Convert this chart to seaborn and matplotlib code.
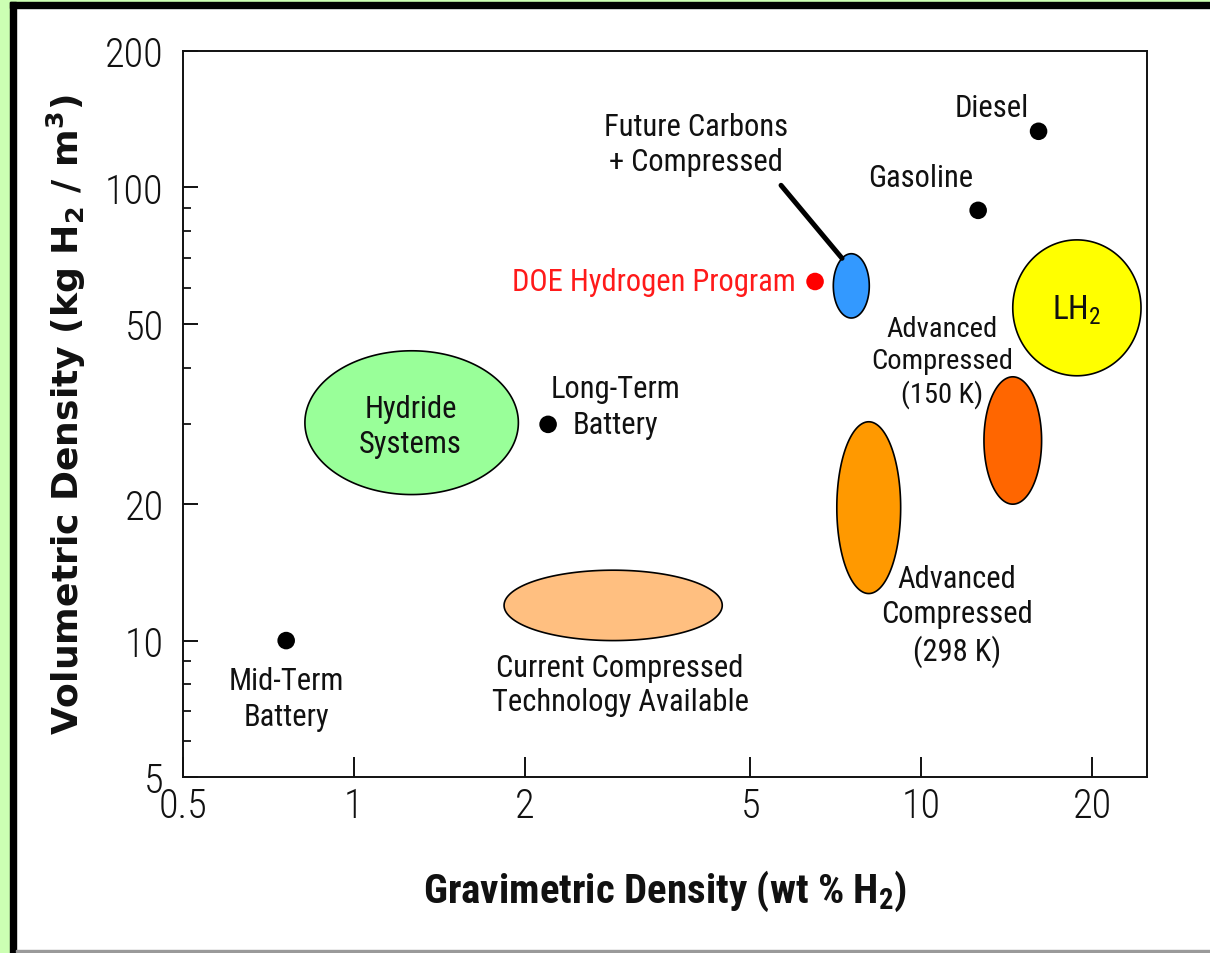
import os
import numpy as np
import pandas as pd
import matplotlib
matplotlib.use("Agg")
import matplotlib.pyplot as plt
import seaborn as sns
from matplotlib import font_manager as fm
from matplotlib.patches import Rectangle
from matplotlib.ticker import FixedLocator, FixedFormatter, NullFormatter, NullLocator

# ---- single-value storage options (wt % H2, kg H2 / m3) ----
point_names = ["Diesel", "Gasoline", "DOE Hydrogen Program",
               "Long-Term\nBattery", "Mid-Term\nBattery"]
point_wt = [16.1, 12.6, 6.5, 2.2, 0.76]
point_vol = [133, 89, 62, 30, 10]
point_colors = ["#000000", "#000000", "#ff0000", "#000000", "#000000"]

# ---- storage technologies spanning a range ----
region_names = ["Hydride\nSystems", "Current Compressed\nTechnology Available",
                "Future Carbons\n+ Compressed", "LH$_2$",
                "Advanced\nCompressed\n(150 K)", "Advanced\nCompressed\n(298 K)"]
region_wt_lo = [0.82, 1.84, 7.0, 14.5, 12.9, 7.1]
region_wt_hi = [1.95, 4.46, 8.1, 24.4, 16.3, 9.2]
region_vol_lo = [21.0, 10.0, 51.5, 38.4, 20.0, 12.7]
region_vol_hi = [43.6, 14.3, 71.4, 76.6, 38.2, 30.4]
region_colors = ["#99ff99", "#ffbf80", "#3399ff", "#ffff00", "#ff6600", "#ff9900"]

x_ticks = [0.5, 1, 2, 5, 10, 20]
x_tick_labels = ["0.5", "1", "2", "5", "10", "20"]
y_ticks = [5, 10, 20, 50, 100, 200]
y_tick_labels = ["5", "10", "20", "50", "100", "200"]
y_minor_ticks = [6, 7, 8, 9, 30, 40, 60, 70, 80, 90]

# ---- label layout (offsets in pixels) ----
point_label_offsets = [(-47, 24), (-57, 33), (-19, 0), (67, 18), (0, -58)]
point_label_ha = ["center", "center", "right", "center", "center"]
region_label_offsets = [(-1, -3), (7, -79), (-155, 142), (0, -1), (-71, 79), (88, -108)]
region_label_sizes = [22, 22, 22, 24, 20.5, 22]
leader_region = 2
leader_angle = np.deg2rad(121)
leader_offset = (-61, 73)

sns.set_theme(style="white")
plt.rcParams["font.family"] = ["Liberation Sans", "DejaVu Sans"]
plt.rcParams["mathtext.default"] = "regular"


def find_font(patterns):
    """Return the path of the first installed font file whose name matches."""
    files = [f.fname for f in fm.fontManager.ttflist]
    files += fm.findSystemFonts()
    for pat in patterns:
        for path in files:
            base = os.path.splitext(os.path.basename(path))[0].lower().replace("-", "").replace("_", "")
            if base == pat.lower():
                return path
    return None


narrow_regular = find_font(["LiberationSansNarrowRegular", "ArialNarrow",
                            "RobotoCondensedRegular", "NotoSansCondensed",
                            "DejaVuSansCondensed"])
narrow_light = find_font(["RobotoCondensedLight", "LiberationSansNarrowRegular",
                          "RobotoCondensedRegular", "NotoSansCondensedLight",
                          "DejaVuSansCondensed"])
narrow_bold = find_font(["LiberationSansNarrowBold", "ArialNarrowBold",
                         "RobotoCondensedBold", "NotoSansCondensedBold",
                         "DejaVuSansCondensedBold"])


def narrow(size, path):
    if path:
        return fm.FontProperties(fname=path, size=size)
    return fm.FontProperties(family=["Liberation Sans", "DejaVu Sans"], size=size)


W, H = 1210, 954
fig = plt.figure(figsize=(W / 100, H / 100), dpi=100)
fig.patch.set_facecolor("white")

# page frame
frame_green = "#ccffb3"
fig.patches.extend([
    Rectangle((0, 0), 10 / W, 1, transform=fig.transFigure, color=frame_green, zorder=0),
    Rectangle((0, 1 - 3 / H), 1, 3 / H, transform=fig.transFigure, color=frame_green, zorder=0),
    Rectangle((10 / W, 0), 6 / W, 1 - 3 / H, transform=fig.transFigure, color="black", zorder=1),
    Rectangle((10 / W, 1 - 9 / H), 1 - 10 / W, 6 / H, transform=fig.transFigure, color="black", zorder=1),
    Rectangle((16 / W, 1 / H), 1 - 16 / W, 2 / H, transform=fig.transFigure, color="#9a9a9a", zorder=1),
])

ax = fig.add_axes([183 / W, 1 - 778 / H, 964 / W, 726 / H])

# ellipses drawn in log-log space
t = np.linspace(0, 2 * np.pi, 240)
region_centers = []
for name, xl, xh, yl, yh, col in zip(region_names, region_wt_lo, region_wt_hi,
                                     region_vol_lo, region_vol_hi, region_colors):
    cx, rx = (np.log10(xl) + np.log10(xh)) / 2, (np.log10(xh) - np.log10(xl)) / 2
    cy, ry = (np.log10(yl) + np.log10(yh)) / 2, (np.log10(yh) - np.log10(yl)) / 2
    region_centers.append((cx, rx, cy, ry))
    ax.fill(10 ** (cx + rx * np.cos(t)), 10 ** (cy + ry * np.sin(t)),
            facecolor=col, edgecolor="black", linewidth=1.2, zorder=2)

df = pd.DataFrame({"name": point_names, "wt": point_wt, "vol": point_vol})
sns.scatterplot(data=df, x="wt", y="vol", hue="name",
                palette=dict(zip(point_names, point_colors)),
                s=160, linewidth=0, legend=False, ax=ax, zorder=3)

ax.set_xscale("log")
ax.set_yscale("log")
ax.set_xlim(0.5, 25)
ax.set_ylim(5, 200)

label_size = 22
for name, x, y, col, off, ha in zip(point_names, point_wt, point_vol, point_colors,
                                    point_label_offsets, point_label_ha):
    ax.annotate(name, xy=(x, y), xytext=off, textcoords="offset pixels",
                ha=ha, va="center", fontproperties=narrow(label_size, narrow_regular),
                color="#ff1a1a" if col != "#000000" else "#111111",
                linespacing=1.3)

for name, (cx, rx, cy, ry), off, sz in zip(region_names, region_centers,
                                           region_label_offsets, region_label_sizes):
    ax.annotate(name, xy=(10 ** cx, 10 ** cy), xytext=off, textcoords="offset pixels",
                ha="center", va="center", fontproperties=narrow(sz, narrow_regular),
                color="#111111", linespacing=1.25)

# leader line from the carbon region to its label
cx, rx, cy, ry = region_centers[leader_region]
lead_pt = (10 ** (cx + rx * np.cos(leader_angle)), 10 ** (cy + ry * np.sin(leader_angle)))
ax.annotate("", xy=lead_pt, xytext=leader_offset, textcoords="offset pixels",
            arrowprops=dict(arrowstyle="-", lw=3.6, color="black", shrinkA=0, shrinkB=0))

# axes styling
ax.xaxis.set_major_locator(FixedLocator(x_ticks))
ax.xaxis.set_major_formatter(FixedFormatter(x_tick_labels))
ax.xaxis.set_minor_locator(NullLocator())
ax.yaxis.set_major_locator(FixedLocator(y_ticks))
ax.yaxis.set_major_formatter(FixedFormatter(y_tick_labels))
ax.yaxis.set_minor_locator(FixedLocator(y_minor_ticks))
ax.yaxis.set_minor_formatter(NullFormatter())

ax.tick_params(axis="x", which="major", direction="in", length=14.4, width=1.4,
               pad=7, colors="#111111", bottom=True, top=False)
ax.tick_params(axis="y", which="major", direction="in", length=10.8, width=1.4,
               pad=14, colors="#111111", left=True, right=False)
ax.tick_params(axis="y", which="minor", direction="in", length=5.8, width=1.4,
               left=True, right=False)
for lab in ax.get_xticklabels() + ax.get_yticklabels():
    lab.set_fontproperties(narrow(29, narrow_light))
for sp in ax.spines.values():
    sp.set_visible(True)
    sp.set_color("#111111")
    sp.set_linewidth(1.4)

ax.set_xlabel("Gravimetric Density (wt % H$_2$)", fontproperties=narrow(29.5, narrow_bold),
              color="#111111", va="top")
ax.xaxis.set_label_coords(0.5, -0.125)
ax.set_ylabel("Volumetric Density (kg H$_2$ / m$^3$)", fontsize=26, fontweight="bold",
              color="#111111", family=["DejaVu Sans"])
ax.yaxis.set_label_coords(-0.0985, 0.5)

fig.savefig("out.png", dpi=100)
